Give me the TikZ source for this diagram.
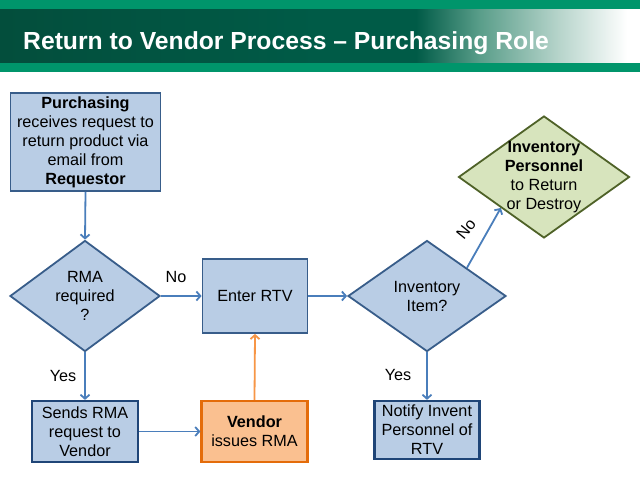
\documentclass[tikz,border=0pt]{standalone}
\usepackage{fontspec}
\setmainfont{Liberation Sans}
\usetikzlibrary{shapes.geometric,arrows.meta}
\definecolor{stripe}{HTML}{00956B}
\definecolor{darkband}{HTML}{034E3C}
\definecolor{darkband2}{HTML}{005B47}
\definecolor{gmid}{HTML}{5A9E8A}
\definecolor{glight}{HTML}{B8D5CC}
\definecolor{bfill}{HTML}{B9CDE5}
\definecolor{bline}{HTML}{385D8A}
\definecolor{bline2}{HTML}{1F4577}
\definecolor{arr}{HTML}{4A7EBB}
\definecolor{ofill}{HTML}{FAC090}
\definecolor{oline}{HTML}{E46C0A}
\definecolor{oarr}{HTML}{F79646}
\definecolor{gfill}{HTML}{D7E4BD}
\definecolor{gline}{HTML}{4F6228}
\pgfdeclarehorizontalshading{hdr}{100bp}{color(0bp)=(darkband); color(25bp)=(darkband); color(50bp)=(darkband2); color(57.5bp)=(darkband2); color(62.5bp)=(gmid); color(68.75bp)=(glight); color(74bp)=(white); color(100bp)=(white)}
\tikzset{
  txt/.style={font=\fontsize{16.2}{19}\selectfont, align=center, inner sep=0pt},
  bbox/.style={draw=bline, line width=1.8pt, fill=bfill, inner sep=0pt},
  bbox2/.style={draw=bline2, line width=2.2pt, fill=bfill, inner sep=0pt},
  obox/.style={draw=oline, line width=2.2pt, fill=ofill, inner sep=0pt},
  bdia/.style={diamond, draw=bline, line width=1.8pt, fill=bfill, inner sep=0pt},
  gdia/.style={diamond, draw=gline, line width=1.8pt, fill=gfill, inner sep=0pt},
  conn/.style={draw=arr, line width=1.8pt, -{Straight Barb[length=4pt,width=9pt]}},
  oconn/.style={draw=oarr, line width=1.8pt, -{Straight Barb[length=4pt,width=9pt]}},
  lbl/.style={font=\fontsize{16.2}{19}\selectfont, inner sep=0pt}
}
\begin{document}
\begin{tikzpicture}[x=1pt,y=-1pt]
\useasboundingbox (0,0) rectangle (640,480);
\fill[white] (0,0) rectangle (640,480);
% header
\fill[stripe] (0,0) rectangle (640,9);
\shade[shading=hdr] (0,9) rectangle (640,63);
\fill[stripe] (0,63) rectangle (640,72);
\node[anchor=base west, inner sep=0pt, text=white, font=\fontsize{24.7}{29}\selectfont\bfseries] (title) at (23,49) {Return to Vendor Process -- Purchasing Role};

% boxes
\node[bbox, minimum width=150pt, minimum height=98pt] (req) at (85.5,142) {};
\node[txt] (reqt) at (req) {\textbf{Purchasing}\\receives request to\\return product via\\email from\\\textbf{Requestor}};

\node[bdia, minimum width=150pt, minimum height=111pt] (rma) at (85,296) {};
\node[txt] (rmat) at (rma) {RMA\\required\\?};

\node[bbox, minimum width=105pt, minimum height=74pt] (enter) at (255,296) {};
\node[txt] (entert) at (enter) {Enter RTV};

\node[bdia, minimum width=158pt, minimum height=111pt] (inv) at (427,296) {};
\node[txt] (invt) at (inv) {Inventory\\Item?};

\node[gdia, minimum width=171pt, minimum height=122pt] (ip) at (544,177) {};
\node[txt] (ipt) at (ip) {\textbf{Inventory}\\\textbf{Personnel}\\to Return\\or Destroy};

\node[bbox2, minimum width=106pt, minimum height=61pt] (send) at (85,431.5) {};
\node[txt] (sendt) at (send) {Sends RMA\\request to\\Vendor};

\node[obox, minimum width=106pt, minimum height=61pt] (vend) at (254.5,431.5) {};
\node[txt] (vendt) at (vend) {\textbf{Vendor}\\issues RMA};

\node[bbox2, minimum width=105pt, minimum height=58pt] (notify) at (427,430) {};
\node[txt] (notifyt) at (notify) {Notify Invent\\Personnel of\\RTV};

% connectors
\draw[conn] (req.south) -- (rma.north);
\draw[conn] (rma.east) -- (enter.west);
\draw[conn] (rma.south) -- (send.north);
\draw[conn] (send.east) -- (vend.west);
\draw[oconn] (vend.north) -- (enter.south);
\draw[conn] (enter.east) -- (inv.west);
\draw[conn] (inv.south) -- (notify.north);
\draw[conn] (inv.north east) -- (ip.south west);

% labels
\node[lbl] (no1) at (176,277) {No};
\node[lbl] (yes1) at (63,376) {Yes};
\node[lbl] (yes2) at (398,375) {Yes};
\node[lbl, rotate=51] (no2) at (466,229) {No};
\end{tikzpicture}
\end{document}
